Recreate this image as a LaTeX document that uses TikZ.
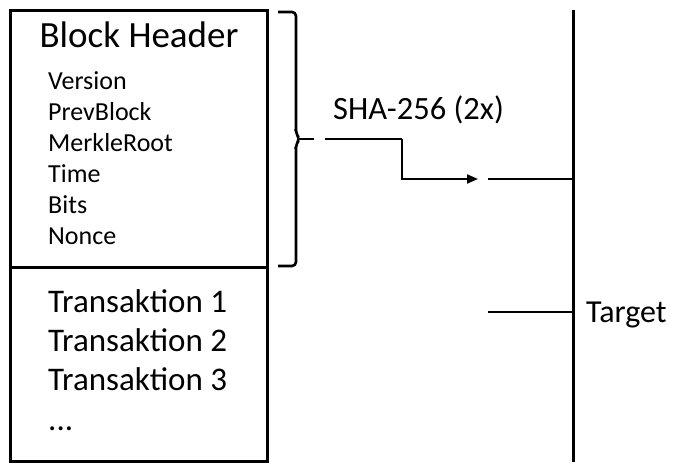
\documentclass[tikz,border=0pt]{standalone}
\usepackage{fontspec}
\setmainfont{Carlito}
\usepackage{tikz}
\usetikzlibrary{arrows.meta,positioning,calc}

\begin{document}
\begin{tikzpicture}[
    x=1pt, y=-1pt,
    frame/.style={draw=black, line width=3pt},
    title/.style={font=\fontsize{37}{42}\selectfont, inner sep=0pt, anchor=base},
    field/.style={font=\fontsize{26}{30}\selectfont, inner sep=0pt, anchor=base west},
    txline/.style={font=\fontsize{33}{38}\selectfont, inner sep=0pt, anchor=base west},
    label/.style={font=\fontsize{32}{36}\selectfont, inner sep=0pt, anchor=base west},
    link/.style={line width=2.6pt},
    arrow/.style={-{Triangle[length=11pt, width=9pt]}, line width=2pt}
]
    \useasboundingbox (0,0) rectangle (682,474);

    % block: header part and transaction part
    \draw [frame] (10,10) rectangle (267,461);
    \draw [frame] (10,267) -- (267,267);

    \node [title] (hdr) at (139,47) {Block Header};
    \node [field] (ver) at (48,89) {Version};
    \node [field] (prev) at (48,120) {PrevBlock};
    \node [field] (merkle) at (48,151) {MerkleRoot};
    \node [field] (time) at (48,182) {Time};
    \node [field] (bits) at (48,213) {Bits};
    \node [field] (nonce) at (48,244) {Nonce};

    \node [txline] (tx1) at (48,312) {Transaktion 1};
    \node [txline] (tx2) at (48,351) {Transaktion 2};
    \node [txline] (tx3) at (48,390) {Transaktion 3};
    \node [txline] (dots) at (48,430) {...};

    % brace round the header
    \draw [link, rounded corners=4pt] (278,12) -| (296,134) -- (300,139) -- (296,144) |- (278,266);
    \coordinate (tip) at (299,139);
    \coordinate (tick) at (314,139);
    \draw [link] (tip) -- (tick);

    % double hash
    \coordinate (hstart) at (325,139);
    \coordinate (hbend) at (402,139);
    \coordinate (hend) at (478,179);
    \node [label, font=\fontsize{32.5}{36}\selectfont] (sha) at (333,119) {SHA-256 (2x)};
    \draw [link] (hstart) -- (hbend);
    \draw [arrow] (hbend) |- (hend);

    % comparison with target
    \coordinate (ctop) at (573,10);
    \coordinate (cbot) at (573,462);
    \draw [link, line width=3pt] (ctop) -- (cbot);
    \coordinate (hash) at (488,179);
    \coordinate (tgt) at (488,312);
    \draw [link] (hash) -- (hash -| ctop);
    \draw [link] (tgt) -- (tgt -| ctop);
    \node [label] (target) at (586,322) {Target};
\end{tikzpicture}
\end{document}
